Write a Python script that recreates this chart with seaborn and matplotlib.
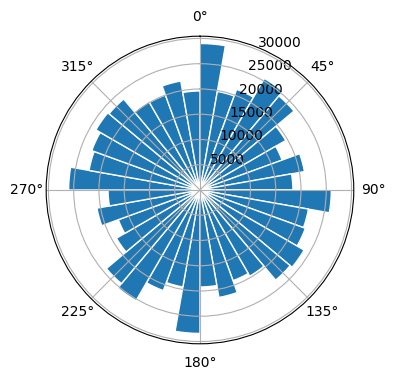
import matplotlib
matplotlib.use("Agg")

import matplotlib.pyplot as plt
import seaborn as sns
import numpy as np
import pandas as pd

# ── Data: counts per 10° direction sector (clockwise from north) ─────────────
sector_start_deg = list(range(0, 360, 10))
counts = [
    29000, 19800, 21200, 25500, 24300, 19600, 17300, 21000, 18400,
    26000, 21800, 22200, 23800, 23300, 19700, 19100, 21600, 19200,
    28400, 19500, 21200, 25300, 24200, 19100, 17200, 20700, 18200,
    26000, 22300, 22800, 23800, 23500, 20200, 20000, 21900, 19600,
]

df = pd.DataFrame({"start": sector_start_deg, "count": counts})
df["theta"] = np.deg2rad(df["start"])

color = sns.color_palette("tab10")[0]

fig = plt.figure(figsize=(3.96, 3.8), dpi=100)
ax = fig.add_axes([0.1166, 0.0953, 0.7768, 0.8095], projection="polar")
ax.set_theta_zero_location("N")
ax.set_theta_direction(-1)

ax.bar(df["theta"], df["count"], width=np.deg2rad(10), align="edge",
       color=color, edgecolor="white", linewidth=1.0)

fig.savefig("out.png", dpi=100)
